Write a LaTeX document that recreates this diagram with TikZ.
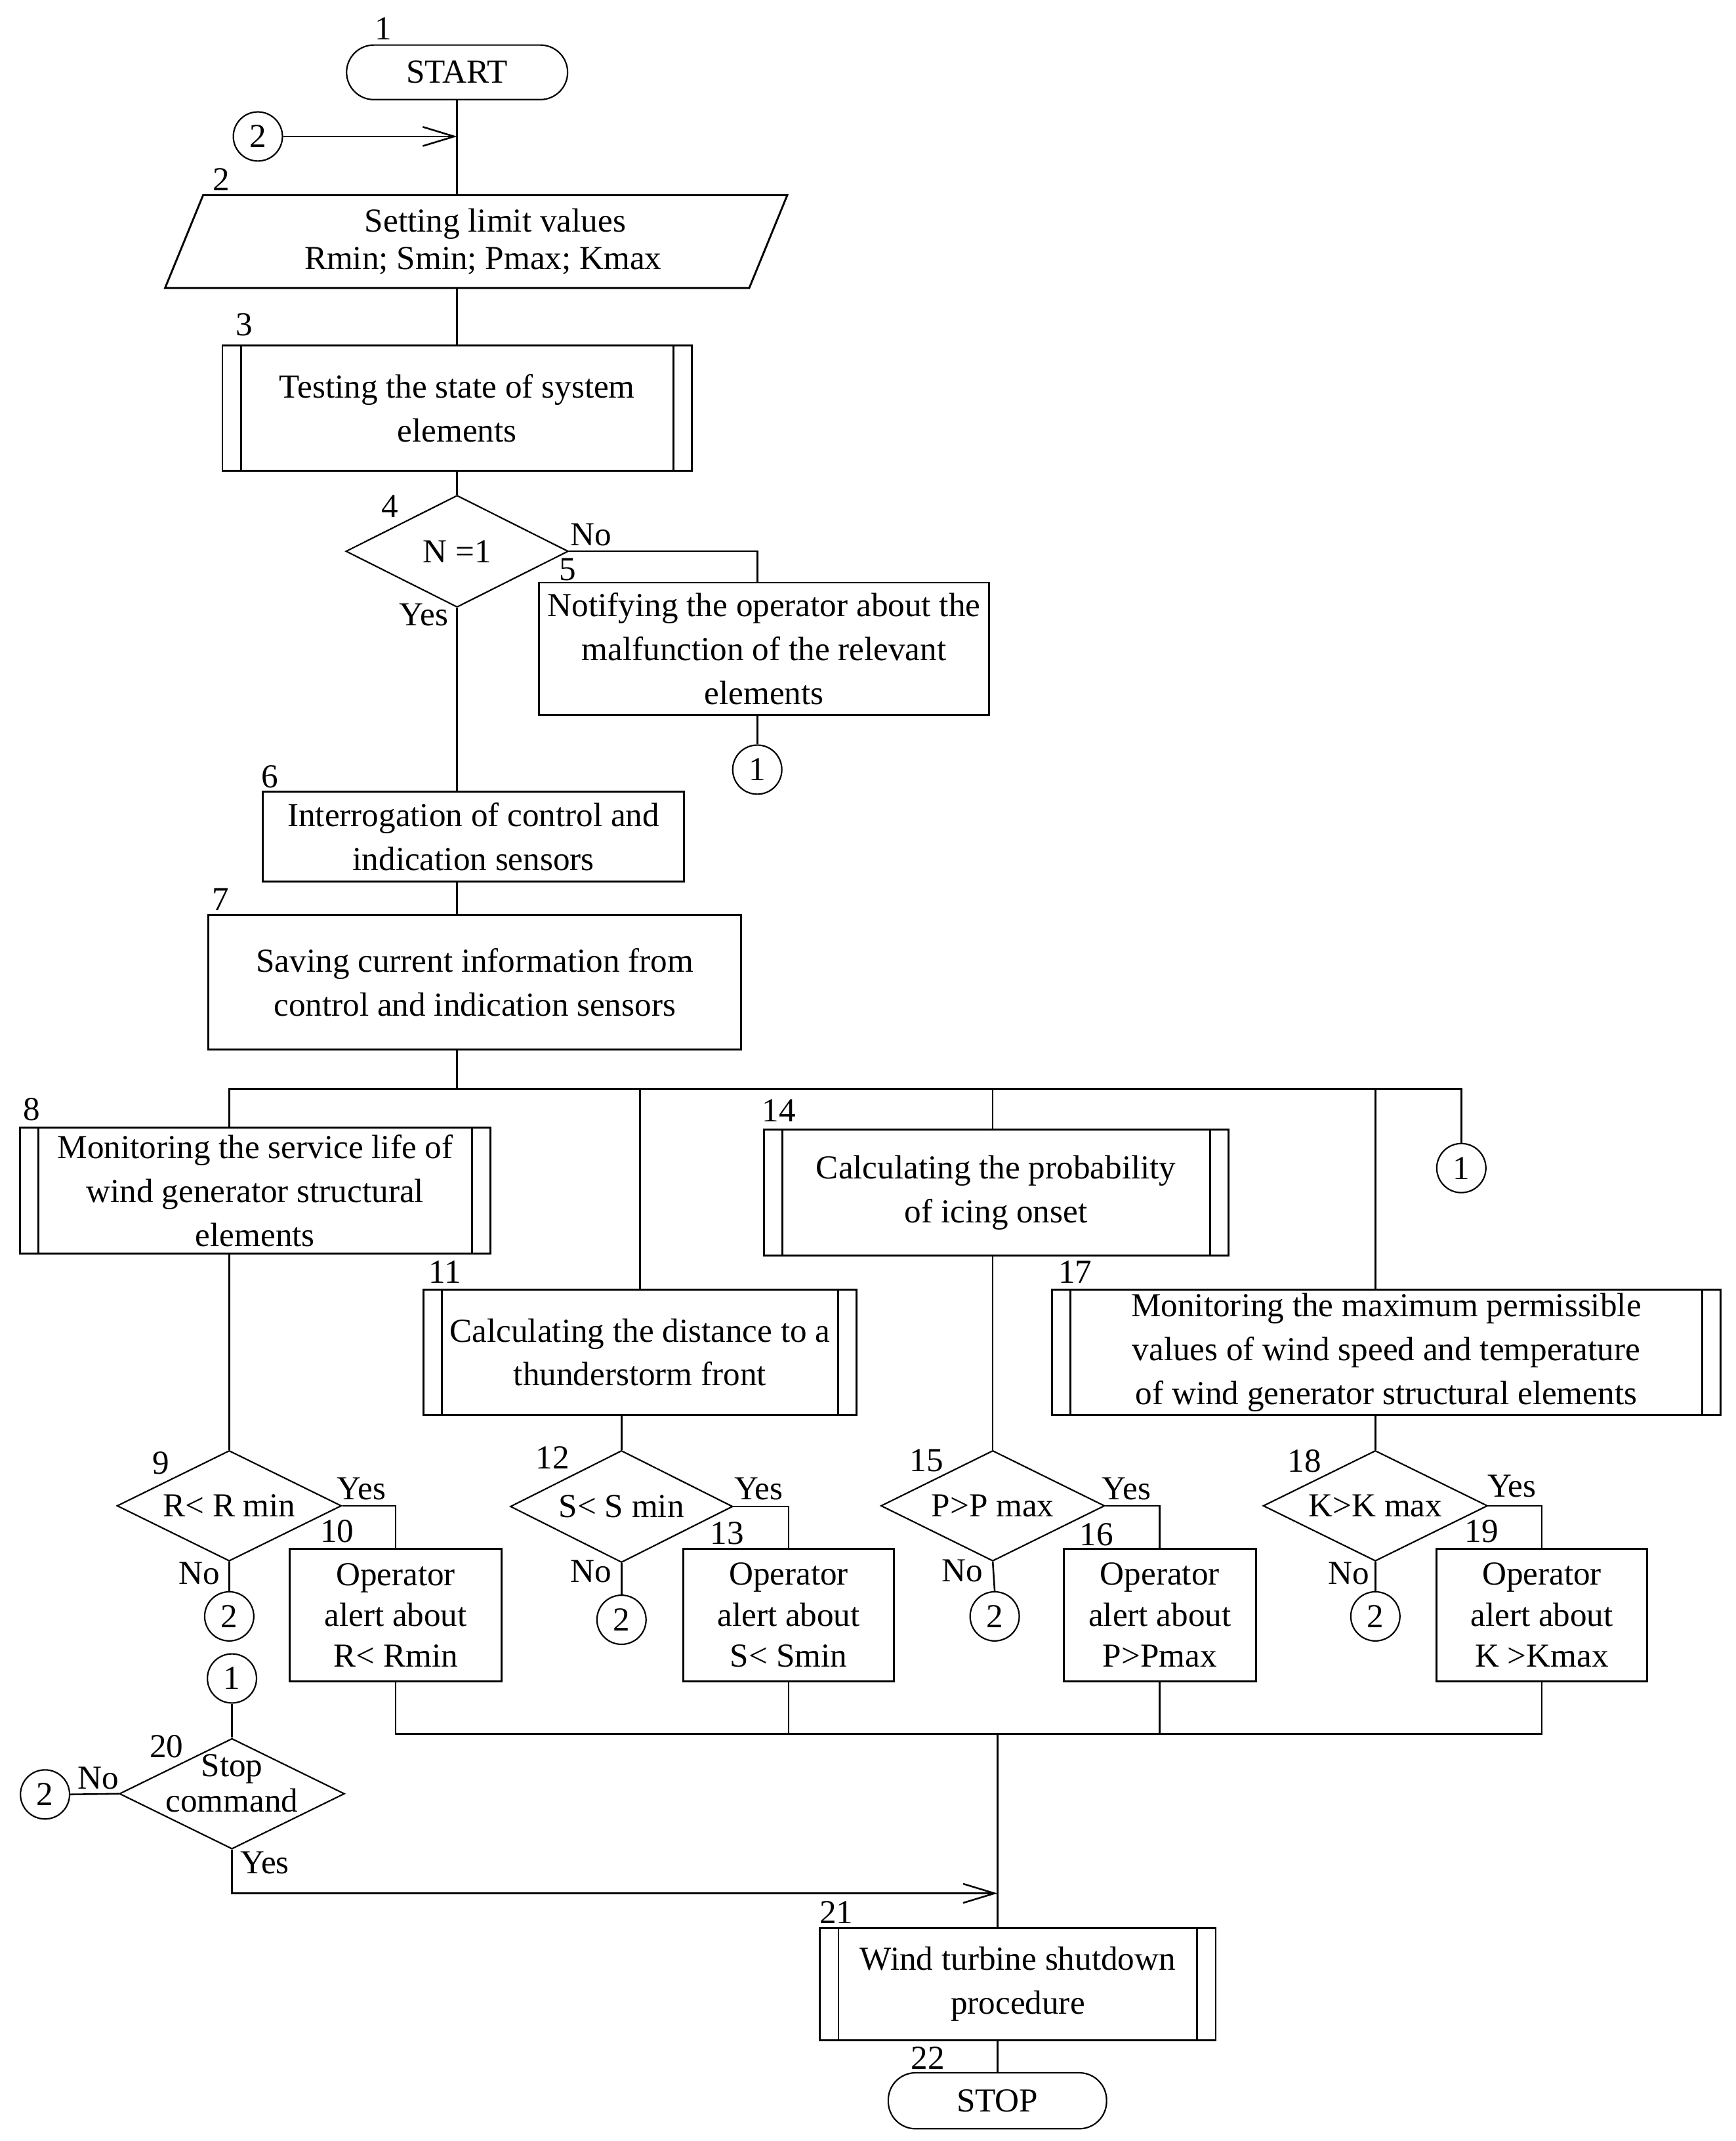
\documentclass[tikz,border=0pt]{standalone}
\usepackage{fontspec}
\setmainfont{Liberation Serif}
\usetikzlibrary{shapes.geometric, arrows.meta}
\newcommand{\flowfont}{\fontsize{14}{18.3}\selectfont}

\tikzset{
  block/.style={rectangle, draw, line width=0.8pt, inner sep=0pt, align=center, font=\flowfont},
  subproc/.style={block, path picture={
      \draw[line width=0.8pt] ([xshift=2.7mm]path picture bounding box.north west) -- ([xshift=2.7mm]path picture bounding box.south west)
            ([xshift=-2.7mm]path picture bounding box.north east) -- ([xshift=-2.7mm]path picture bounding box.south east);}},
  alert/.style={block, font=\fontsize{14}{17}\selectfont},
  decision/.style={diamond, aspect=2, draw, line width=0.6pt, inner sep=0pt, align=center, font=\flowfont},
  term/.style={rectangle, rounded corners=4mm, draw, line width=0.6pt, inner sep=0pt, font=\flowfont},
  conn/.style={circle, draw, line width=0.6pt, minimum size=7.2mm, inner sep=0pt, font=\flowfont},
  num/.style={inner sep=0pt, font=\flowfont},
  line/.style={line width=0.7pt},
  arrow/.style={line width=0.7pt, -{Straight Barb[length=4.6mm,width=2.8mm]}}
}

\begin{document}
\begin{tikzpicture}[x=0.2mm, y=-0.2mm]
\useasboundingbox (0,0) rectangle (1272,1569);

% main column
\draw (335,53) node[term, minimum width=32.4mm, minimum height=8mm](s1){START}
      (349,177) node[trapezium, trapezium left angle=60, trapezium right angle=120, trapezium stretches body,
                     draw, line width=0.8pt, inner sep=0pt, align=center, font=\fontsize{14}{15.6}\selectfont,
                     minimum width=91.2mm, minimum height=13.6mm](s2){\hspace*{5.6mm}Setting limit values\\\hspace*{2mm}Rmin; Smin; Pmax; Kmax}
      (335,299) node[subproc, minimum width=68.8mm, minimum height=18.4mm](s3){Testing the state of system\\elements}
      (335,404) node[decision, minimum width=32.6mm, minimum height=16.4mm](s4){N =1}
      (560,475.5) node[block, minimum width=66mm, minimum height=19.4mm](s5){Notifying the operator about the\\malfunction of the relevant\\elements}
      (347,613) node[block, minimum width=61.7mm, minimum height=13.2mm](s6){Interrogation of control and\\indication sensors}
      (348,720) node[block, minimum width=78.1mm, minimum height=19.7mm](s7){Saving current information from\\control and indication sensors};
\draw (189,100) node[conn](c2a){2}
      (555,564) node[conn](c1a){1};

% parallel branches
\draw (187,872.5) node[subproc, minimum width=68.9mm, minimum height=18.4mm](s8){Monitoring the service life of\\wind generator structural\\elements}
      (469,991) node[subproc, minimum width=63.5mm, minimum height=18.3mm](s11){Calculating the distance to a\\thunderstorm front}
      (730,874) node[subproc, minimum width=68.1mm, minimum height=18.5mm](s14){Calculating the probability\\of icing onset}
      (1016,991) node[subproc, minimum width=98mm, minimum height=18.4mm](s17){Monitoring the maximum permissible\\values of wind speed and temperature\\of wind generator structural elements}
      (1071,856) node[conn](c1b){1};

\draw (168,1103.5) node[decision, minimum width=32.9mm, minimum height=16.2mm](s9){R< R min}
      (455.5,1104) node[decision, minimum width=32.6mm, minimum height=16.4mm](s12){S< S min}
      (727.6,1103.5) node[decision, minimum width=32.8mm, minimum height=16.2mm](s15){P>P max}
      (1008,1103.5) node[decision, minimum width=32.9mm, minimum height=16.2mm](s18){K>K max}
      (290,1183.5) node[alert, minimum width=31mm, minimum height=19.4mm](s10){Operator\\alert about\\R< Rmin}
      (578,1183.5) node[alert, minimum width=30.8mm, minimum height=19.4mm](s13){Operator\\alert about\\S< Smin}
      (850,1183.5) node[alert, minimum width=28.2mm, minimum height=19.4mm](s16){Operator\\alert about\\P>Pmax}
      (1130,1183.5) node[alert, minimum width=30.8mm, minimum height=19.4mm](s19){Operator\\alert about\\K >Kmax};
\draw (168,1184.5) node[conn](c2b){2}
      (455.5,1187) node[conn](c2c){2}
      (729,1184.5) node[conn](c2d){2}
      (1008,1184.5) node[conn](c2e){2};

% stop part
\draw (170,1230) node[conn](c1c){1}
      (170,1314.5) node[decision, minimum width=33mm, minimum height=16.2mm, text height=5.4mm, text depth=0mm,
                        font=\fontsize{14}{14.8}\selectfont](s20){Stop\\command}
      (33,1315) node[conn](c2f){2}
      (746,1454) node[subproc, minimum width=58mm, minimum height=16.4mm](s21){Wind turbine shutdown\\procedure}
      (731,1539.5) node[term, minimum width=32mm, minimum height=8.2mm](s22){STOP};
\coordinate (bus) at (335,798);
\coordinate (col) at (730,1270.5);
\coordinate (merge) at (731,1387.5);

% step numbers
\draw (281,21) node[num](n1){1}       (162,131.5) node[num](n2){2}
      (179,238) node[num](n3){3}      (286,371) node[num](n4){4}
      (416,417.5) node[num](n5){5}    (198,569) node[num](n6){6}
      (161.5,659) node[num](n7){7}    (23,813) node[num](n8){8}
      (118,1072) node[num](n9){9}     (247,1122) node[num](n10){10}
      (326,932) node[num](n11){11}    (405,1068) node[num](n12){12}
      (533,1123.5) node[num](n13){13} (571,814) node[num](n14){14}
      (679,1070.5) node[num](n15){15} (803.5,1124.5) node[num](n16){16}
      (788,932) node[num](n17){17}    (956,1070.5) node[num](n18){18}
      (1086,1122) node[num](n19){19}  (122,1280) node[num](n20){20}
      (613,1401.5) node[num](n21){21} (680,1508) node[num](n22){22};

% yes / no
\draw (433,392) node[num](no4){No}      (310.6,450.5) node[num](yes4){Yes}
      (146,1153) node[num](no9){No}     (265,1091) node[num](yes9){Yes}
      (433,1151.5) node[num](no12){No}  (556,1091) node[num](yes12){Yes}
      (705.5,1151) node[num](no15){No}  (825.5,1091) node[num](yes15){Yes}
      (988.5,1153) node[num](no18){No}  (1108,1089) node[num](yes18){Yes}
      (72,1303) node[num](no20){No}     (194,1365) node[num](yes20){Yes};

% connectors
\path[line]
    (s1.south) edge (s1.south |- s2.north)
    (s3.north |- s2.south) edge (s3.north)
    (s3.south) edge (s4.north)
    (s4.south) edge (s4.south |- s6.north)
    (s4.south |- s6.south) edge (s4.south |- s7.north)
    (s4.south |- s7.south) edge (s4.south |- bus)
    (c1a |- s5.south) edge (c1a.north)
    (s11.north |- bus) edge (s11.north)
    (s15.north |- bus) edge (s15.north |- s14.north)
    (s18.north |- bus) edge (s18.north |- s17.north)
    (s9.north |- s8.south) edge (s9.north)
    (s12.north |- s11.south) edge (s12.north)
    (s15.north |- s14.south) edge (s15.north)
    (s18.north |- s17.south) edge (s18.north)
    (s9.south) edge (c2b.north)
    (s12.south) edge (c2c.north)
    (s15.south) edge (c2d.north)
    (s18.south) edge (c2e.north)
    (s13.south) edge (s13.south |- col)
    (s16.south) edge (s16.south |- col)
    (s22.north |- col) edge (s22.north |- s21.north)
    (s22.north |- s21.south) edge (s22.north)
    (c1c.south) edge (s20.north)
    (s20.west) edge (c2f.east);
\draw[line] (s4.east) -| (c1a |- s5.north);
\draw[line] (s9.north |- s8.north) |- (c1b |- bus) -- (c1b.north);
\draw[line] (s9.east) -| (s10.north);
\draw[line] (s12.east) -| (s13.north);
\draw[line] (s15.east) -| (s16.north);
\draw[line] (s18.east) -| (s19.north);
\draw[line] (s10.south) |- (s19.south |- col) -- (s19.south);
\draw[arrow] (c2a.east) -- (c2a.east -| s1.south);
\draw[arrow] (s20.south) |- (merge);
\end{tikzpicture}
\end{document}
